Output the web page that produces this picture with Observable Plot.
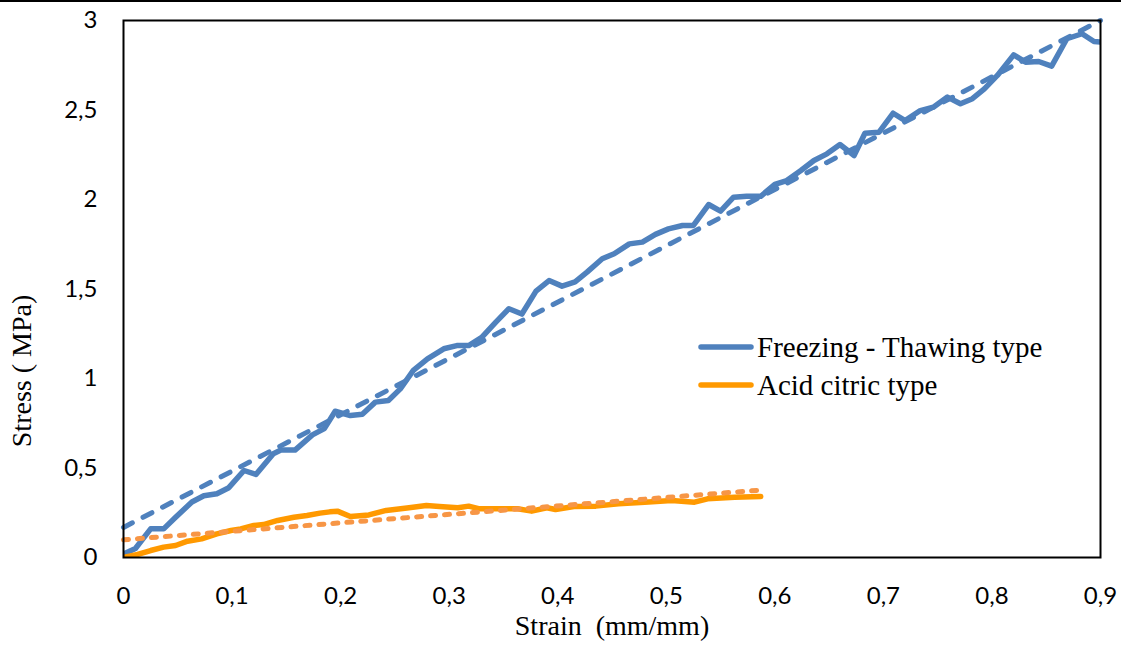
<!DOCTYPE html>
<html>
<head>
<meta charset="utf-8">
<script src="https://cdn.jsdelivr.net/npm/d3@7"></script>
<script src="https://cdn.jsdelivr.net/npm/@observablehq/plot@0.6"></script>
<style>
  html, body { margin: 0; padding: 0; background: white; }
  #wrap { position: relative; width: 1121px; height: 650px; overflow: hidden; }
  #topline { position: absolute; left: 0; top: 0; width: 1121px; height: 2px; background: black; }
  #legend { position: absolute; left: 0; top: 0; pointer-events: none; }
</style>
</head>
<body>
<div id="wrap"><div id="chart"></div><div id="topline"></div><svg id="legend" width="1121" height="650"></svg></div>
<script>
// ---- data ----
const xTicks = [0, 0.1, 0.2, 0.3, 0.4, 0.5, 0.6, 0.7, 0.8, 0.9];
const xTickLabels = ["0", "0,1", "0,2", "0,3", "0,4", "0,5", "0,6", "0,7", "0,8", "0,9"];
const yTicks = [0, 0.5, 1, 1.5, 2, 2.5, 3];
const yTickLabels = ["0", "0,5", "1", "1,5", "2", "2,5", "3"];

const seriesNames = ["Freezing - Thawing type", "Acid citric type"];

const freezeStrain = [0, 0.011, 0.025, 0.037, 0.048, 0.063, 0.074, 0.086, 0.097, 0.111, 0.122, 0.138, 0.145, 0.158, 0.174, 0.185, 0.195, 0.209, 0.22, 0.232, 0.244, 0.255, 0.267, 0.28, 0.295, 0.307, 0.318, 0.33, 0.343, 0.355, 0.367, 0.38, 0.392, 0.404, 0.416, 0.427, 0.441, 0.452, 0.466, 0.478, 0.49, 0.502, 0.515, 0.525, 0.539, 0.55, 0.562, 0.574, 0.587, 0.6, 0.611, 0.624, 0.636, 0.648, 0.66, 0.673, 0.683, 0.696, 0.709, 0.72, 0.734, 0.746, 0.759, 0.771, 0.782, 0.793, 0.805, 0.82, 0.831, 0.843, 0.855, 0.869, 0.883, 0.894, 0.9];
const freezeStress = [0.02, 0.05, 0.16, 0.16, 0.225, 0.31, 0.345, 0.356, 0.39, 0.486, 0.464, 0.58, 0.6, 0.6, 0.685, 0.72, 0.817, 0.793, 0.8, 0.868, 0.877, 0.942, 1.045, 1.11, 1.166, 1.184, 1.184, 1.23, 1.315, 1.39, 1.36, 1.488, 1.547, 1.516, 1.54, 1.594, 1.669, 1.697, 1.752, 1.762, 1.805, 1.836, 1.855, 1.855, 1.972, 1.935, 2.013, 2.018, 2.018, 2.084, 2.106, 2.162, 2.218, 2.255, 2.307, 2.246, 2.37, 2.376, 2.482, 2.441, 2.497, 2.516, 2.572, 2.535, 2.563, 2.618, 2.693, 2.808, 2.767, 2.771, 2.745, 2.898, 2.926, 2.883, 2.879];

const citricStrain = [0, 0.013, 0.025, 0.037, 0.048, 0.059, 0.072, 0.086, 0.099, 0.108, 0.12, 0.129, 0.142, 0.157, 0.169, 0.181, 0.19, 0.197, 0.209, 0.226, 0.242, 0.263, 0.279, 0.291, 0.308, 0.318, 0.328, 0.349, 0.363, 0.376, 0.39, 0.398, 0.415, 0.435, 0.456, 0.48, 0.505, 0.526, 0.538, 0.563, 0.587];
const citricStress = [0, 0.017, 0.039, 0.058, 0.067, 0.091, 0.104, 0.132, 0.151, 0.16, 0.179, 0.184, 0.207, 0.225, 0.235, 0.248, 0.255, 0.259, 0.229, 0.238, 0.263, 0.278, 0.29, 0.285, 0.278, 0.287, 0.272, 0.272, 0.272, 0.259, 0.278, 0.268, 0.285, 0.287, 0.3, 0.309, 0.318, 0.309, 0.328, 0.337, 0.341];

// linear trendline end points
const freezeTrendStrain = [0, 0.9];
const freezeTrendStress = [0.168, 3.0];
const citricTrendStrain = [0, 0.59];
const citricTrendStress = [0.099, 0.378];

// ---- styles ----
const blue = "#4F81BD";
const orange = "#FF9900";
const orangeTrend = "#F79646";

const toRows = (xs, ys) => xs.map((x, i) => ({x, y: ys[i]}));
const freeze = toRows(freezeStrain, freezeStress);
const citric = toRows(citricStrain, citricStress);
const freezeTrend = toRows(freezeTrendStrain, freezeTrendStress);
const citricTrend = toRows(citricTrendStrain, citricTrendStress);

const serif = "'Liberation Serif', 'Times New Roman', serif";

const chart = Plot.plot({
  width: 1121,
  height: 650,
  marginLeft: 123,
  marginRight: 21,
  marginTop: 20,
  marginBottom: 93,
  style: {fontFamily: "Lato, sans-serif", fontSize: "24px", color: "black", background: "white", overflow: "visible"},
  x: {domain: [0, 0.9], ticks: xTicks, tickFormat: d => xTickLabels[xTicks.indexOf(d)], tickSize: 0, tickPadding: 29, label: null},
  y: {domain: [0, 3], ticks: yTicks, tickFormat: d => yTickLabels[yTicks.indexOf(d)], tickSize: 0, tickPadding: 26, label: null},
  marks: [
    Plot.line(freeze, {x: "x", y: "y", stroke: blue, strokeWidth: 5.5, strokeLinejoin: "round", strokeLinecap: "round", clip: true}),
    Plot.line(citric, {x: "x", y: "y", stroke: orange, strokeWidth: 5.5, strokeLinejoin: "round", strokeLinecap: "round", clip: true}),
    Plot.line(freezeTrend, {x: "x", y: "y", stroke: blue, strokeWidth: 5, strokeDasharray: "10,12", strokeLinecap: "round"}),
    Plot.line(citricTrend, {x: "x", y: "y", stroke: orangeTrend, strokeWidth: 5, strokeDasharray: "5,9", strokeLinecap: "round"}),
    Plot.frame({stroke: "black", strokeWidth: 2}),
    Plot.text(["Strain  (mm/mm)"], {text: d => d, frameAnchor: "bottom", dy: 77, fontFamily: serif, fontSize: 28, fill: "black"}),
    Plot.text(["Stress ( MPa)"], {text: d => d, frameAnchor: "left", textAnchor: "middle", dx: -101, dy: 82, rotate: -90, fontFamily: serif, fontSize: 28, fill: "black"})
  ]
});
document.getElementById("chart").appendChild(chart);

// ---- legend ----
const lg = d3.select("#legend");
const legendItems = [
  {name: seriesNames[0], color: blue, y: 347},
  {name: seriesNames[1], color: orange, y: 385}
];
legendItems.forEach(it => {
  lg.append("line").attr("x1", 701).attr("x2", 751).attr("y1", it.y).attr("y2", it.y)
    .attr("stroke", it.color).attr("stroke-width", 5.5).attr("stroke-linecap", "round");
  lg.append("text").attr("x", 757).attr("y", it.y + 10)
    .attr("font-family", serif).attr("font-size", 29).attr("fill", "black").text(it.name);
});
</script>
</body>
</html>
